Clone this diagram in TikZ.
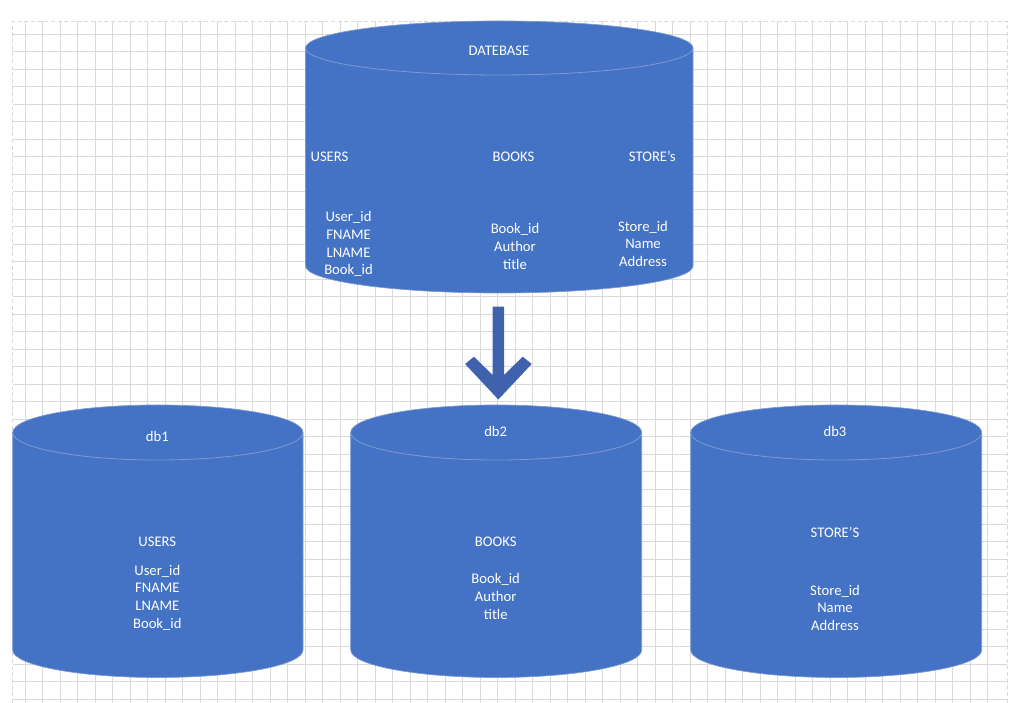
\documentclass[tikz,border=0pt]{standalone}
\usepackage{fontspec}
\setmainfont{Carlito}
\definecolor{cyl}{HTML}{4472C4}
\definecolor{cylline}{HTML}{7D9AD2}
\definecolor{arrowc}{HTML}{4062AC}
\definecolor{gridc}{HTML}{D9D9D9}
\tikzset{
  lbl/.style={text=white, font=\fontsize{11pt}{13.2pt}\selectfont, inner sep=0pt, anchor=base, align=center},
  cylfill/.style={fill=cyl, draw=cylline, line width=0.5pt},
  cylrim/.style={draw=cylline, line width=0.6pt},
  gridline/.style={draw=gridc, line width=0.6pt},
  gridborder/.style={draw=gridc, line width=0.6pt, dash pattern=on 3pt off 2pt}
}
\newcommand{\mycyl}[6]{% xl, xr, Ytop, Ybot, ry, name
  \pgfmathsetmacro{\cx}{(#1+#2)/2}
  \pgfmathsetmacro{\rx}{(#2-#1)/2}
  \path[cylfill] (#1,#3) -- (#1,#4) arc[start angle=180, end angle=360, x radius=\rx, y radius=#5] -- (#2,#3) arc[start angle=0, end angle=180, x radius=\rx, y radius=#5] -- cycle;
  \draw[cylrim] (#1,#3) arc[start angle=180, end angle=360, x radius=\rx, y radius=#5];
  \coordinate (#6) at (\cx,#3);
}
\begin{document}
\begin{tikzpicture}[x=0.75pt,y=0.75pt]
\useasboundingbox (0,0) rectangle (1010,703);
\fill[white] (0,0) rectangle (1010,703);
% grid
\foreach \k in {0,...,55} {
  \draw[gridline] ({25.3+17.5*\k},0) -- ({25.3+17.5*\k},681.5);
}
\foreach \k in {0,...,38} {
  \draw[gridline] (12.5,{669-17.5*\k}) -- (1007,{669-17.5*\k});
}
\draw[gridborder] (12.5,0) -- (12.5,681.5) -- (1007,681.5) -- (1007,0);
% top cylinder
\mycyl{305.5}{693}{655}{437}{27}{topdb}
\node[lbl] (tname) at (499,647.3) {DATEBASE};
\node[lbl] (tusers) at (329.5,541.3) {USERS};
\node[lbl] (tbooks) at (513.5,541.3) {BOOKS};
\node[lbl] (tstores) at (652.3,541.3) {STORE’s};
\node[lbl] (tulist) at (348.5,428.2) {User\_id\\FNAME\\LNAME\\Book\_id};
\node[lbl] (tblist) at (515,433.8) {Book\_id\\Author\\title};
\node[lbl] (tslist) at (643,436.4) {Store\_id\\Name\\Address};
% arrow
\fill[arrowc] (492.7,396.3) -- (504,396.3) -- (504,328) -- (522.7,346.3) -- (531.7,339) -- (498.3,303.5) -- (465.1,339) -- (473.9,346.3) -- (492.7,328) -- cycle;
% bottom cylinders
\mycyl{12.7}{303}{270.5}{53}{27.5}{db1}
\mycyl{350.7}{641.7}{270.5}{53}{27.5}{db2}
\mycyl{690.7}{981.7}{270.5}{53}{27.5}{db3}
\node[lbl] (n1) at (157.3,261.6) {db1};
\node[lbl] (n2) at (495.7,266.6) {db2};
\node[lbl] (n3) at (835,266.6) {db3};
\node[lbl] (u1) at (157.3,156.6) {USERS};
\node[lbl] (l1) at (157.3,74.8) {User\_id\\FNAME\\LNAME\\Book\_id};
\node[lbl] (u2) at (495.7,156.6) {BOOKS};
\node[lbl] (l2) at (495.7,83.8) {Book\_id\\Author\\title};
\node[lbl] (u3) at (835,165.6) {STORE’S};
\node[lbl] (l3) at (835,72.4) {Store\_id\\Name\\Address};
\end{tikzpicture}
\end{document}
